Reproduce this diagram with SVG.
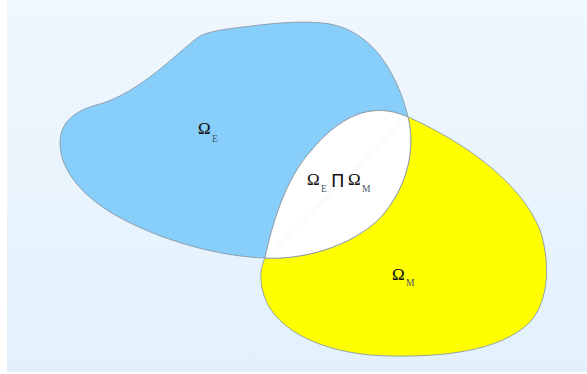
<svg xmlns="http://www.w3.org/2000/svg" width="587" height="374" viewBox="0 0 587 374">
  <defs>
    <linearGradient id="bg" x1="0" y1="0" x2="0" y2="1">
      <stop offset="0" stop-color="#f0f7fe"/>
      <stop offset="1" stop-color="#e2f1fc"/>
    </linearGradient>
  </defs>
  <style>
    .region { stroke: #8c9aa6; stroke-width: 0.9; }
    .om { font-family: "Liberation Serif", "Times New Roman", serif; font-size: 17px; fill: #111; stroke: #111; stroke-width: 0.1; }
    .sub { font-family: "Liberation Serif", "Times New Roman", serif; font-size: 9.5px; fill: #4a5668; }
    .op { font-family: "DejaVu Sans", "Liberation Sans", sans-serif; font-size: 18px; fill: #111; }
  </style>
  <rect x="0" y="0" width="587" height="374" fill="#ffffff"/>
  <rect x="7" y="0" width="580" height="372" fill="url(#bg)"/>

  <g id="omega-e">
    <path class="region" fill="#87cefa" d="M408,117 C403,95 392,70 378,53 C365,38 350,28 330,24 C300,19 260,25 235,28 C220,30 205,32 197,38 C175,55 140,92 100,104 C75,110 60,122 60,143 C60,165 75,190 110,212 C150,236 210,256 265,258 C272,225 285,180 310,152 C338,118 370,100 408,117 Z"/>
  </g>

  <g id="omega-m">
    <path class="region" fill="#ffff00" d="M408,117 C460,140 520,180 540,230 C550,260 550,300 530,322 C500,352 440,357 390,356 C330,355 285,335 268,305 C258,285 260,268 265,258 C300,260 350,248 380,218 C410,185 415,145 408,117 Z"/>
  </g>

  <g id="intersection">
    <path class="region" fill="#ffffff" d="M408,117 C415,145 410,185 380,218 C350,248 300,260 265,258 C272,225 285,180 310,152 C338,118 370,100 408,117 Z"/>
    <line x1="268" y1="255" x2="406" y2="119" stroke="#ececec" stroke-width="0.8"/>
  </g>

  <g id="label-e">
    <text class="om" x="198" y="134">Ω</text>
    <text class="sub" x="212" y="142">E</text>
  </g>

  <g id="label-intersection">
    <text class="om" x="307" y="185">Ω</text>
    <text class="sub" x="321" y="192">E</text>
    <text class="op" x="331" y="187">Π</text>
    <text class="om" x="348" y="185">Ω</text>
    <text class="sub" x="362" y="192">M</text>
  </g>

  <g id="label-m">
    <text class="om" x="392" y="280">Ω</text>
    <text class="sub" x="406" y="286">M</text>
  </g>
</svg>
